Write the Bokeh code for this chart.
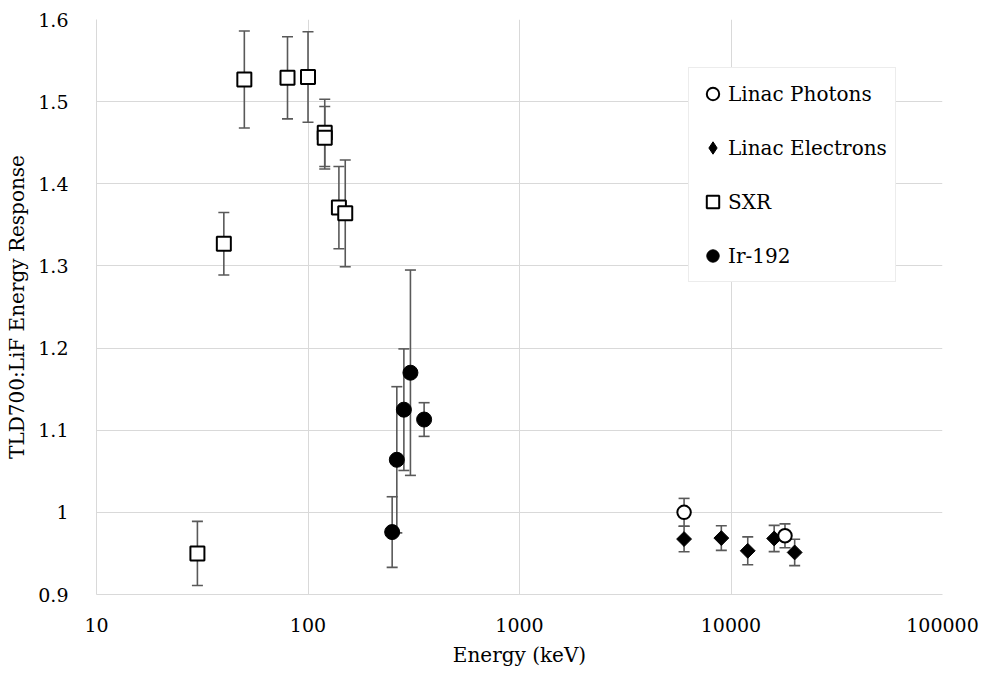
import numpy as np
from bokeh.plotting import figure
from bokeh.models import Range1d, FixedTicker, CustomJSTickFormatter, Legend, LegendItem
from bokeh.embed import file_html
from bokeh.resources import INLINE

# ---- data ----
sxr_energy = [30, 40, 50, 80, 100, 120, 120, 140, 150]
sxr_resp = [0.950, 1.327, 1.527, 1.529, 1.530, 1.462, 1.456, 1.371, 1.364]
sxr_err = [0.039, 0.038, 0.059, 0.050, 0.055, 0.041, 0.038, 0.050, 0.065]

ir_energy = [250, 263, 284, 305, 354]
ir_resp = [0.976, 1.064, 1.125, 1.170, 1.113]
ir_err = [0.043, 0.089, 0.074, 0.125, 0.0205]

photon_energy = [6000, 18000]
photon_resp = [1.000, 0.9715]
photon_err = [0.017, 0.0145]

electron_energy = [6000, 9000, 12000, 16000, 20000]
electron_resp = [0.9675, 0.9687, 0.9532, 0.9682, 0.9512]
electron_err = [0.0155, 0.015, 0.017, 0.016, 0.016]

x_ticks = [10, 100, 1000, 10000, 100000]
y_ticks = [0.9, 1.0, 1.1, 1.2, 1.3, 1.4, 1.5, 1.6]

FONT = "DejaVu Serif"
GRID = "#d9d9d9"
ERR = "#595959"

p = figure(width=984, height=673, x_axis_type="log",
           x_range=Range1d(10, 100000), y_range=Range1d(0.9, 1.6),
           output_backend="svg", toolbar_location=None,
           min_border_left=96, min_border_right=42,
           min_border_top=19, min_border_bottom=79)
p.outline_line_color = None
p.background_fill_color = "white"
p.border_fill_color = "white"

# axes
p.xaxis.ticker = FixedTicker(ticks=x_ticks)
p.yaxis.ticker = FixedTicker(ticks=y_ticks)
p.xaxis.formatter = CustomJSTickFormatter(code="return tick.toFixed(0);")
p.yaxis.formatter = CustomJSTickFormatter(code="return parseFloat(tick.toFixed(1)).toString();")
for ax in (p.xaxis, p.yaxis):
    ax.axis_line_color = GRID
    ax.axis_line_width = 1
    ax.major_tick_line_color = None
    ax.minor_tick_line_color = None
    ax.major_label_text_font = FONT
    ax.major_label_text_font_size = "19px"
    ax.major_label_text_color = "black"
    ax.axis_label_text_font = FONT
    ax.axis_label_text_font_size = "20px"
    ax.axis_label_text_font_style = "normal"
    ax.axis_label_text_color = "black"
p.xaxis.axis_label = "Energy (keV)"
p.yaxis.axis_label = "TLD700:LiF Energy Response"
p.xaxis.major_label_standoff = 17
p.yaxis.major_label_standoff = 22
p.xaxis.axis_label_standoff = 8
p.yaxis.axis_label_standoff = 6

p.xgrid.grid_line_color = GRID
p.ygrid.grid_line_color = GRID
p.xgrid.grid_line_width = 1
p.ygrid.grid_line_width = 1


def errbars(xs, ys, es):
    lo = [y - e for y, e in zip(ys, es)]
    hi = [y + e for y, e in zip(ys, es)]
    p.segment(x0=xs, y0=lo, x1=xs, y1=hi, line_color=ERR, line_width=1.6)
    p.scatter(x=xs, y=lo, marker="dash", size=11, line_color=ERR, line_width=1.6)
    p.scatter(x=xs, y=hi, marker="dash", size=11, line_color=ERR, line_width=1.6)


errbars(sxr_energy, sxr_resp, sxr_err)
errbars(ir_energy, ir_resp, ir_err)
errbars(photon_energy, photon_resp, photon_err)
errbars(electron_energy, electron_resp, electron_err)

r_sxr = p.scatter(x=sxr_energy, y=sxr_resp, marker="square", size=14,
                  fill_color="white", line_color="black", line_width=2)
r_ir = p.scatter(x=ir_energy, y=ir_resp, marker="circle", size=15,
                 fill_color="black", line_color="black", line_width=1)
r_el = p.scatter(x=electron_energy, y=electron_resp, marker="square", angle=np.pi / 4,
                 size=10.5, fill_color="black", line_color="black", line_width=1)
r_ph = p.scatter(x=photon_energy, y=photon_resp, marker="circle", size=13.5,
                 fill_color="white", line_color="black", line_width=2)
# legend proxy for the electrons' diamond symbol (not drawn in the plot area)
r_el_leg = p.scatter(x=[np.nan], y=[np.nan], marker="diamond", size=14,
                     fill_color="black", line_color="black", line_width=1)

legend = Legend(items=[
    LegendItem(label="Linac Photons", renderers=[r_ph]),
    LegendItem(label="Linac Electrons", renderers=[r_el_leg]),
    LegendItem(label="SXR", renderers=[r_sxr]),
    LegendItem(label="Ir-192", renderers=[r_ir]),
], location=(592, 312))
legend.border_line_color = GRID
legend.border_line_width = 1.5
legend.background_fill_color = "white"
legend.background_fill_alpha = 1
legend.padding = 8
legend.spacing = 19
legend.glyph_height = 35
legend.glyph_width = 31
legend.label_height = 35
legend.label_standoff = 0
legend.margin = 0
legend.label_text_font = FONT
legend.label_text_font_size = "20px"
legend.label_text_color = "black"
legend.label_text_baseline = "middle"
p.add_layout(legend, "center")

open("out.html", "w").write(file_html(p, INLINE))
